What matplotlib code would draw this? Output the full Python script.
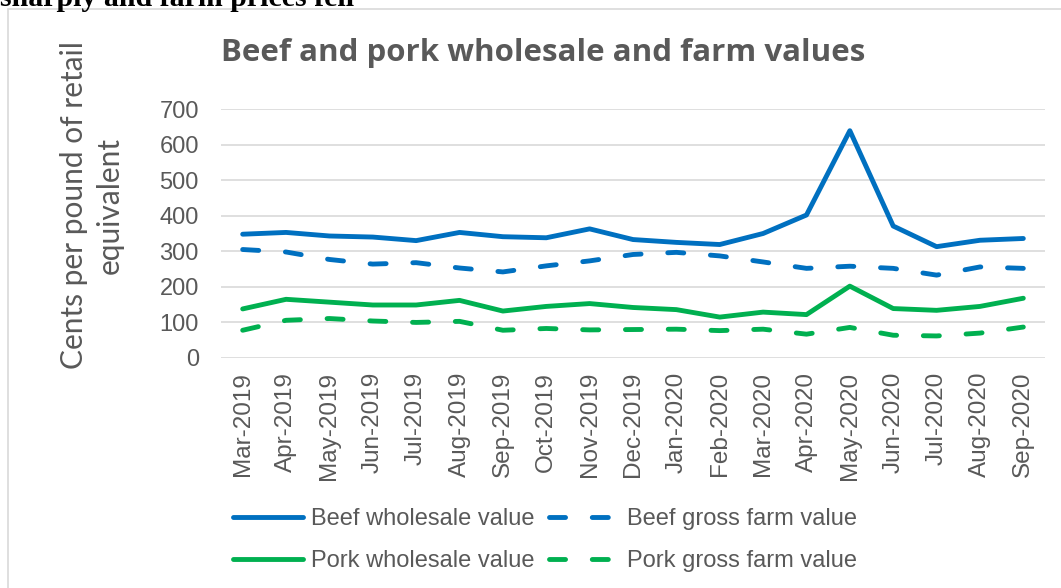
import matplotlib
matplotlib.use("Agg")
import matplotlib.pyplot as plt
from matplotlib.patches import Rectangle

months = ["Mar-2019", "Apr-2019", "May-2019", "Jun-2019", "Jul-2019", "Aug-2019",
          "Sep-2019", "Oct-2019", "Nov-2019", "Dec-2019", "Jan-2020", "Feb-2020",
          "Mar-2020", "Apr-2020", "May-2020", "Jun-2020", "Jul-2020", "Aug-2020",
          "Sep-2020"]

beef_wholesale = [348, 353, 343, 340, 330, 353, 341, 338, 363, 333, 325, 319,
                  350, 402, 639, 371, 313, 331, 336]
beef_farm = [305, 298, 277, 264, 268, 253, 242, 259, 273, 291, 297, 287,
             270, 252, 258, 252, 233, 256, 252]
pork_wholesale = [138, 165, 157, 149, 149, 162, 132, 145, 153, 142, 136, 115,
                  129, 122, 202, 139, 134, 145, 168]
pork_farm = [78, 106, 111, 104, 100, 103, 78, 83, 79, 80, 81, 77,
             81, 67, 86, 64, 62, 70, 87]

BLUE = "#0070C0"
GREEN = "#00B050"
GREY = "#595959"
W, H = 1061, 588

fig = plt.figure(figsize=(W / 100, H / 100), dpi=100)

# chart frame (runs off the right and bottom edges)
fig.patches.append(Rectangle((8 / W, -0.05), 1.1, 1 - 9 / H + 0.05,
                             transform=fig.transFigure, fill=False,
                             edgecolor="#d9d9d9", linewidth=1.2))

# tail of the caption above the chart
fig.text(0, 1 - 6 / H, "sharply and farm prices fell", family="Liberation Serif",
         weight="bold", fontsize=21.5, va="baseline", ha="left", color="black")

ax = fig.add_axes([221 / W, 1 - 358 / H, 824 / W, 249 / H])
x = list(range(len(months)))

LW = 3.5
dash = (0, (3.3, 5.5))
l_bw, = ax.plot(x, beef_wholesale, color=BLUE, lw=LW, solid_capstyle="round",
                solid_joinstyle="round", label="Beef wholesale value")
l_bf, = ax.plot(x, beef_farm, color=BLUE, lw=LW, linestyle=dash,
                dash_capstyle="round", label="Beef gross farm value")
l_pw, = ax.plot(x, pork_wholesale, color=GREEN, lw=LW, solid_capstyle="round",
                solid_joinstyle="round", label="Pork wholesale value")
l_pf, = ax.plot(x, pork_farm, color=GREEN, lw=LW, linestyle=dash,
                dash_capstyle="round", label="Pork gross farm value")

ax.set_xlim(-0.5, len(months) - 0.5)
ax.set_ylim(0, 700)
ax.set_yticks(range(0, 701, 100))
ax.set_xticks(x)
ax.set_xticklabels(months, rotation=90)
ax.grid(axis="y", color="#d9d9d9", lw=1.2)
ax.set_axisbelow(True)
for s in ax.spines.values():
    s.set_visible(False)
ax.tick_params(axis="both", length=0, labelcolor=GREY)
ax.tick_params(axis="y", pad=16, labelsize=17)
ax.tick_params(axis="x", pad=10, labelsize=17.5)
for lab in ax.get_xticklabels() + ax.get_yticklabels():
    lab.set_family("Liberation Sans")

fig.text(543 / W, 1 - 53 / H, "Beef and pork wholesale and farm values",
         family="Open Sans", weight="bold", fontsize=22.5, color=GREY,
         ha="center", va="center")

fig.text(92 / W, 1 - 205 / H, "Cents per pound of retail\nequivalent",
         family="Lato", weight="normal", fontsize=21.5, color=GREY, rotation=90,
         ha="center", va="center", multialignment="center", linespacing=1.35)

# legend filled column by column, so order handles to read across rows
handles = [l_bw, l_pw, l_bf, l_pf]
leg = fig.legend(handles, [h.get_label() for h in handles], ncol=2, loc="center",
                 frameon=False, bbox_to_anchor=(545 / W, 1 - 540 / H),
                 handlelength=3.0, handletextpad=0.3, columnspacing=0.65,
                 labelspacing=0.85, prop={"family": "Liberation Sans", "size": 17})
for t in leg.get_texts():
    t.set_color(GREY)

fig.savefig("out.png", dpi=100)
